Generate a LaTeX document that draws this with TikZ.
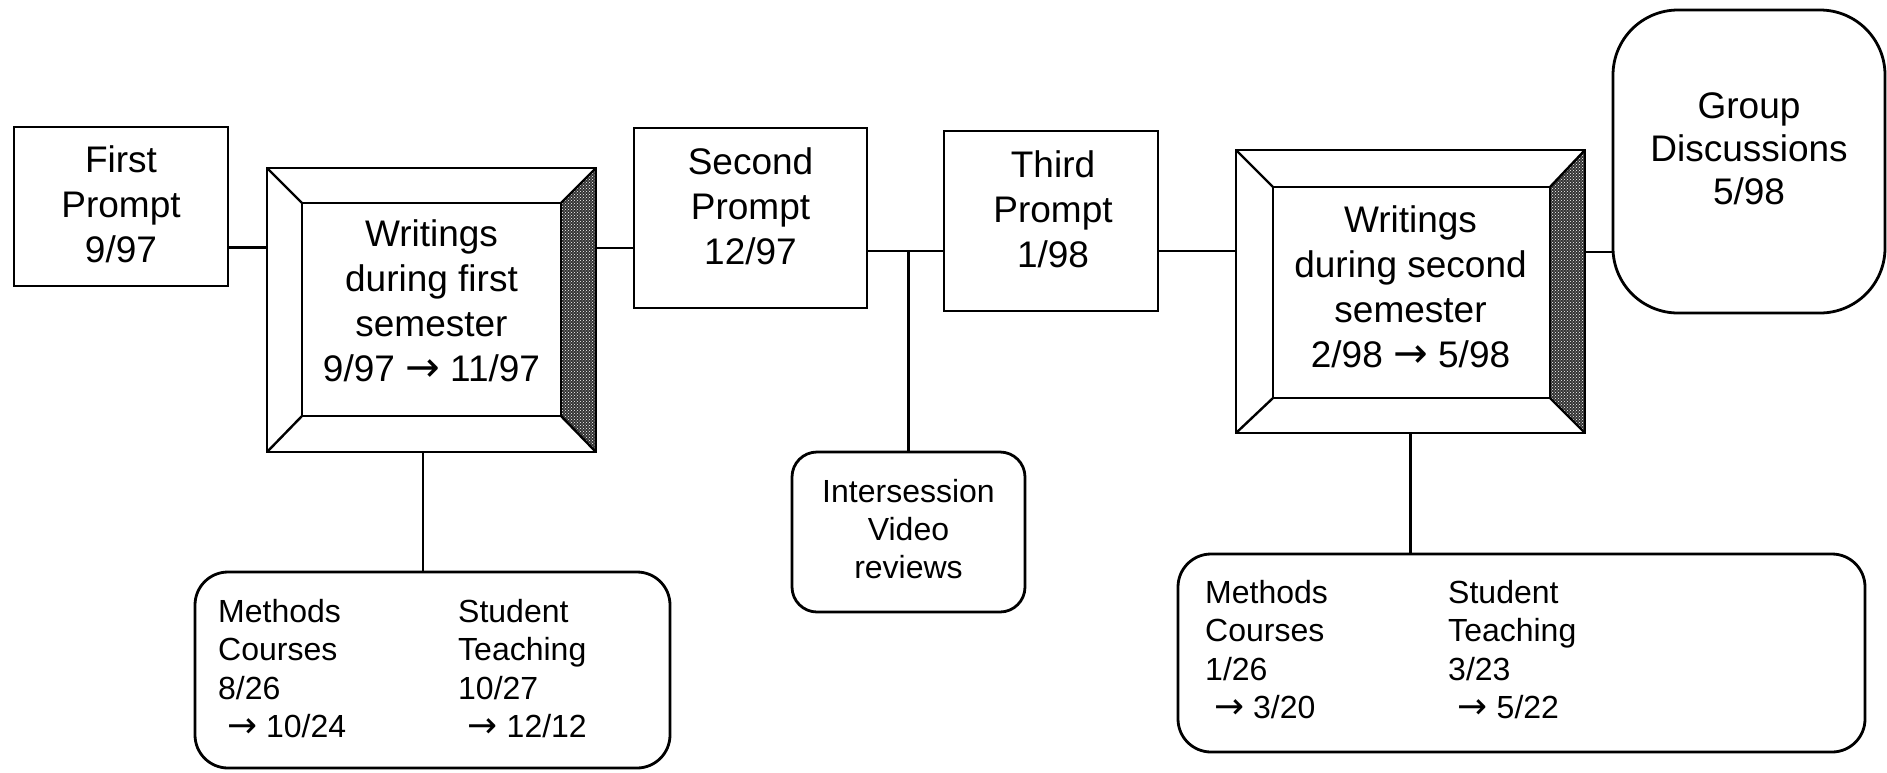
\documentclass[tikz,border=0pt]{standalone}
\usepackage{fontspec}
\setmainfont{Liberation Sans}
\newfontfamily\arrfont[Scale=1.12]{DejaVu Sans}
\newcommand{\rarr}{{\arrfont →}}
\usetikzlibrary{patterns}
\begin{document}
\begin{tikzpicture}[x=1pt,y=-1pt,
  box/.style={draw, line width=2.8pt, inner sep=0pt, outer sep=0pt, fill=white},
  big/.style={font=\fontsize{37}{45}\selectfont, align=center, inner sep=0pt},
  small/.style={font=\fontsize{32}{38}\selectfont, align=center, inner sep=0pt},
  colt/.style={font=\fontsize{32}{38.5}\selectfont, align=left, inner sep=0pt, anchor=north west},
  conn/.style={line width=2.4pt},
  bevl/.style={line width=2.4pt},
  shade/.style={fill=black!80},
  speck/.style={pattern=crosshatch dots, pattern color=white}]
\useasboundingbox (0,0) rectangle (1887,772);

% top row boxes
\node[box, minimum width=214pt, minimum height=159pt] (p1) at (121,206.5) {};
\node[big] (p1t) at (121,204.5) {First\\Prompt\\9/97};

\node[box, minimum width=329pt, minimum height=284pt] (bev1) at (431.5,310) {};
\node[box, minimum width=233pt, minimum height=180pt] (p2) at (750.5,218) {};
\node[big] (p2t) at (750.5,206) {Second\\Prompt\\12/97};

\node[box, minimum width=214pt, minimum height=180pt] (p3) at (1051,221) {};
\node[big] (p3t) at (1053,209.5) {Third\\Prompt\\1/98};

\node[box, minimum width=349pt, minimum height=283pt] (bev2) at (1410.5,291.5) {};

\node[box, rounded corners=65pt, minimum width=272pt, minimum height=303pt] (grp) at (1749,161.5) {};
\node[big, font=\fontsize{37}{43}\selectfont] (grpt) at (1749,149) {Group\\Discussions\\5/98};

% bevel 1 details
\coordinate (b1a) at ([shift={(35,35)}]bev1.north west);
\coordinate (b1b) at ([shift={(-35,35)}]bev1.north east);
\coordinate (b1c) at ([shift={(-35,-36)}]bev1.south east);
\coordinate (b1d) at ([shift={(35,-36)}]bev1.south west);
\fill[shade] (bev1.north east) -- (b1b) -- (b1c) -- (bev1.south east) -- cycle;
\fill[speck] (bev1.north east) -- (b1b) -- (b1c) -- (bev1.south east) -- cycle;
\draw[bevl] (b1a) rectangle (b1c);
\draw[bevl] (bev1.north west) -- (b1a) (bev1.north east) -- (b1b)
  (bev1.south east) -- (b1c) (bev1.south west) -- (b1d);
\draw[line width=2.8pt] (bev1.north west) rectangle (bev1.south east);
\node[big] (bev1t) at (431.5,301) {Writings\\during first\\semester\\9/97 \rarr{} 11/97};

% bevel 2 details
\coordinate (b2a) at ([shift={(37,37)}]bev2.north west);
\coordinate (b2b) at ([shift={(-35,37)}]bev2.north east);
\coordinate (b2c) at ([shift={(-35,-35)}]bev2.south east);
\coordinate (b2d) at ([shift={(37,-35)}]bev2.south west);
\fill[shade] (bev2.north east) -- (b2b) -- (b2c) -- (bev2.south east) -- cycle;
\fill[speck] (bev2.north east) -- (b2b) -- (b2c) -- (bev2.south east) -- cycle;
\draw[bevl] (b2a) rectangle (b2c);
\draw[bevl] (bev2.north west) -- (b2a) (bev2.north east) -- (b2b)
  (bev2.south east) -- (b2c) (bev2.south west) -- (b2d);
\draw[line width=2.8pt] (bev2.north west) rectangle (bev2.south east);
\node[big] (bev2t) at (1410.5,286.5) {Writings\\during second\\semester\\2/98 \rarr{} 5/98};

% lower boxes
\node[box, rounded corners=25pt, minimum width=233pt, minimum height=160pt] (int) at (908.5,532) {};
\node[small] (intt) at (908.5,529.5) {Intersession\\Video\\reviews};

\node[box, rounded corners=33pt, minimum width=475pt, minimum height=196pt] (m1) at (432.5,670) {};
\node[colt] (m1a) at (218,599) {Methods\\Courses\\8/26\\\hspace*{0.28em}\rarr{} 10/24};
\node[colt] (m1b) at (458,599) {Student\\Teaching\\10/27\\\hspace*{0.3em}\rarr{} 12/12};

\node[box, rounded corners=33pt, minimum width=687pt, minimum height=198pt] (m2) at (1521.5,653) {};
\node[colt] (m2a) at (1205,580) {Methods\\Courses\\1/26\\\hspace*{0.28em}\rarr{} 3/20};
\node[colt] (m2b) at (1448,580) {Student\\Teaching\\3/23\\\hspace*{0.3em}\rarr{} 5/22};

% connectors
\coordinate (y1) at (0,247.5);
\coordinate (y2) at (0,248);
\coordinate (y3) at (0,251);
\coordinate (y4) at (0,252);
\coordinate (x1) at (423,0);
\draw[conn] (p1.east |- y1) -- (bev1.west |- y1);
\draw[conn] (bev1.east |- y2) -- (p2.west |- y2);
\draw[conn] (p2.east |- y3) -- (p3.west |- y3);
\draw[conn] (int.north |- y3) -- (int.north);
\draw[conn] (p3.east |- y3) -- (bev2.west |- y3);
\draw[conn] (bev2.east |- y4) -- (grp.west |- y4);
\draw[conn] (bev1.south -| x1) -- (m1.north -| x1);
\draw[conn] (bev2.south) -- (bev2.south |- m2.north);
\end{tikzpicture}
\end{document}
